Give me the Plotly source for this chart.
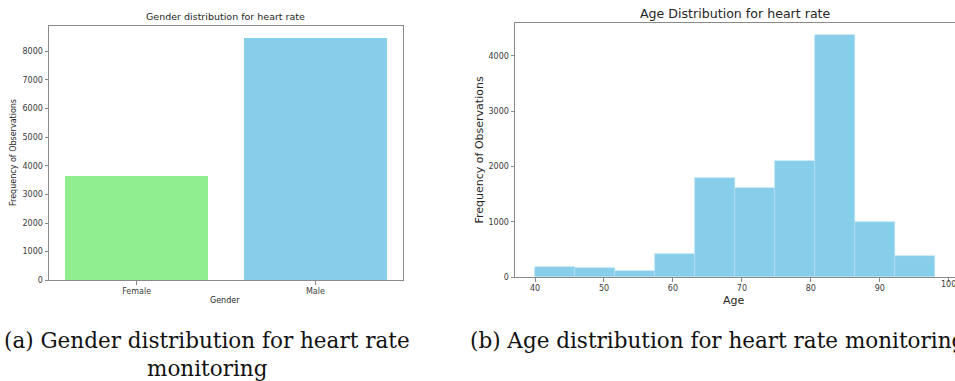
import plotly.graph_objects as go

# Gender counts
genders = ["Female", "Male"]
gender_counts = [3650, 8475]
gender_colors = ["#90EE90", "#87CEEB"]

# Age histogram: 10 bins between 40 and 98
age_bin_edges = [40.0, 45.8, 51.6, 57.4, 63.2, 69.0, 74.8, 80.6, 86.4, 92.2, 98.0]
age_counts = [195, 172, 119, 414, 1789, 1616, 2108, 4375, 1000, 385]

gender_yticks = [0, 1000, 2000, 3000, 4000, 5000, 6000, 7000, 8000]
age_yticks = [0, 1000, 2000, 3000, 4000]
age_xticks = [40, 50, 60, 70, 80, 90, 100]

W, H = 955, 381


def px_x(p):
    return p / W


def px_y(p):
    return 1 - p / H


age_centers = [(a + b) / 2 for a, b in zip(age_bin_edges[:-1], age_bin_edges[1:])]
age_widths = [b - a for a, b in zip(age_bin_edges[:-1], age_bin_edges[1:])]

fig = go.Figure()

fig.add_trace(go.Bar(
    x=list(range(len(genders))), y=gender_counts, width=0.8,
    marker=dict(color=gender_colors, line=dict(width=0)),
    xaxis="x", yaxis="y", showlegend=False,
))

fig.add_trace(go.Bar(
    x=age_centers, y=age_counts, width=age_widths,
    marker=dict(color="#87CEEB", line=dict(color="#b8e2f2", width=0.6)),
    xaxis="x2", yaxis="y2", showlegend=False,
))

spine = "#8a8a8a"
tick_font = dict(family="DejaVu Sans", size=8, color="#3a3a3a")


def axis_style(mirror=True):
    return dict(showline=True, linecolor=spine, linewidth=1, mirror=mirror,
                showgrid=False, zeroline=False, ticks="outside", ticklen=3.5,
                tickcolor=spine, tickwidth=1, tickfont=tick_font)


g_max = max(gender_counts) * 1.05
a_max = max(age_counts) * 1.05
a_pad = (age_bin_edges[-1] - age_bin_edges[0]) * 0.05

# The last age tick sits right at the page edge, where Plotly drops its
# label; that label is written as an annotation instead.
age_tick_text = [str(v) for v in age_xticks[:-1]] + [""]
age_edge_tick = age_xticks[-1]

fig.update_layout(
    width=W, height=H,
    margin=dict(l=0, r=0, t=0, b=0),
    paper_bgcolor="white", plot_bgcolor="white",
    bargap=0,
    font=dict(family="DejaVu Sans", color="#333333"),
    xaxis=dict(domain=[px_x(49), px_x(403)], anchor="y",
               range=[-0.49, 1.49], tickvals=list(range(len(genders))),
               ticktext=genders, **axis_style()),
    yaxis=dict(domain=[px_y(284), px_y(26)], anchor="x",
               range=[0, g_max], tickvals=gender_yticks, **axis_style()),
    xaxis2=dict(domain=[px_x(515), 1.0], anchor="y2",
                range=[age_bin_edges[0] - a_pad, age_bin_edges[-1] + a_pad],
                tickvals=age_xticks, ticktext=age_tick_text, **axis_style()),
    yaxis2=dict(domain=[px_y(281), px_y(23.3)], anchor="x2",
                range=[0, a_max], tickvals=age_yticks, **axis_style(mirror=False)),
)

txt = "#262626"
cap_font = dict(family="DejaVu Serif", size=21.5, color="#111111")
annotations = [
    dict(text="Gender distribution for heart rate", x=px_x(225), y=px_y(17),
         font=dict(size=9.5, color=txt)),
    dict(text="Frequency of Observations", x=px_x(14), y=px_y(155),
         textangle=-90, font=dict(size=8, color=txt)),
    dict(text="Gender", x=px_x(225), y=px_y(305), font=dict(size=8, color=txt)),
    dict(text="Age Distribution for heart rate", x=px_x(735), y=px_y(14),
         font=dict(size=12.6, color=txt)),
    dict(text="Frequency of Observations", x=px_x(479), y=px_y(152.5),
         textangle=-90, font=dict(size=11, color=txt)),
    dict(text="Age", x=px_x(734), y=px_y(304), font=dict(size=11, color=txt)),
    dict(text="(a) Gender distribution for heart rate", x=px_x(207), y=px_y(345),
         font=cap_font),
    dict(text="monitoring", x=px_x(207), y=px_y(373), font=cap_font),
    dict(text="(b) Age distribution for heart rate monitoring", x=px_x(468), y=px_y(345),
         xanchor="left", font=cap_font),
    dict(text=str(age_edge_tick), x=age_edge_tick, xref="x2", y=px_y(288.5),
         font=tick_font),
]
for a in annotations:
    a.setdefault("xanchor", "center")
    a.setdefault("xref", "paper")
    a.update(yref="paper", yanchor="middle", showarrow=False)
fig.update_layout(annotations=annotations)

fig.write_html("out.html")
